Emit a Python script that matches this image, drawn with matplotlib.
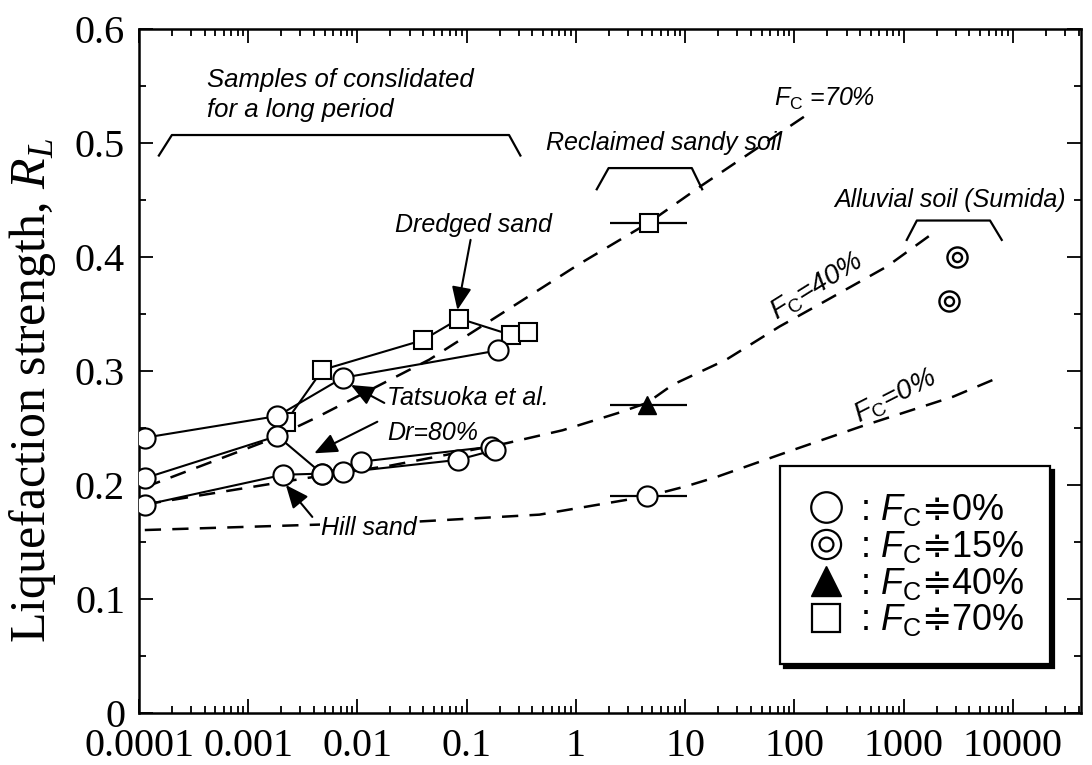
import matplotlib
matplotlib.use('Agg')
import matplotlib.pyplot as plt
from matplotlib.lines import Line2D
from matplotlib.legend_handler import HandlerTuple
from matplotlib.ticker import FixedLocator, LogLocator, NullFormatter, MultipleLocator

plt.rcParams['font.family'] = ['Liberation Sans', 'DejaVu Sans']
plt.rcParams['mathtext.fontset'] = 'custom'
plt.rcParams['mathtext.rm'] = 'DejaVu Sans'
plt.rcParams['mathtext.it'] = 'Liberation Sans:italic'
plt.rcParams['mathtext.sf'] = 'Liberation Serif:italic'
plt.rcParams['mathtext.bf'] = 'Liberation Sans'

# samples consolidated for a long period (Fc ~ 0 %, open circles)
top_x = [1.13e-4, 1.85e-3, 7.3e-3, 0.192]
top_y = [0.2415, 0.2605, 0.294, 0.318]
mid_x = [1.13e-4, 1.85e-3, 4.73e-3, 0.0108, 0.168]
mid_y = [0.206, 0.243, 0.210, 0.2205, 0.2336]
hill_x = [1.13e-4, 2.09e-3, 4.73e-3, 7.3e-3, 0.0826, 0.180]
hill_y = [0.1825, 0.209, 0.210, 0.211, 0.222, 0.2307]
# dredged sand (Fc ~ 70 %, squares)
dredged_x = [2.21e-3, 4.78e-3, 0.0395, 0.0857, 0.255, 0.362]
dredged_y = [0.2555, 0.301, 0.327, 0.346, 0.3316, 0.3345]

# reclaimed sandy soil, with range bars
rec_x = [4.62, 4.47, 4.47]
rec_y = [0.430, 0.270, 0.190]
rec_lo = [2.03, 2.03, 2.03]
rec_hi = [10.3, 10.3, 10.3]

# alluvial soil (Sumida), Fc ~ 15 %
alluv_x = [3060, 2620]
alluv_y = [0.400, 0.361]

# dashed trend curves
fc70_x = [1.13e-4, 1.56e-3, 4.17e-3, 0.0455, 1.08, 4.62, 14.3, 141]
fc70_y = [0.198, 0.2395, 0.259, 0.310, 0.394, 0.430, 0.463, 0.527]
fc40_x = [1.13e-4, 3.37e-3, 0.02, 0.23, 0.753, 2.4, 4.47, 7.7, 23.8, 73, 197, 698, 1742]
fc40_y = [0.183, 0.206, 0.217, 0.2366, 0.248, 0.263, 0.272, 0.288, 0.310, 0.339, 0.362, 0.3915, 0.419]
fc0_x = [1.13e-4, 0.0368, 0.463, 4.47, 10.3, 19.3, 97, 398, 2840, 7110]
fc0_y = [0.1605, 0.168, 0.174, 0.190, 0.199, 0.207, 0.2307, 0.251, 0.2775, 0.2936]

# brackets over the sample groups
br_samples_x = [1.52e-4, 2.0e-4, 0.244, 0.31]
br_samples_y = [0.489, 0.507, 0.507, 0.489]
br_rec_x = [1.55, 1.99, 11.5, 14.3]
br_rec_y = [0.4594, 0.478, 0.478, 0.4594]
br_all_x = [1067, 1320, 6170, 7900]
br_all_y = [0.415, 0.432, 0.432, 0.415]

xticks = [1e-4, 1e-3, 1e-2, 1e-1, 1, 10, 100, 1000, 10000]
xticklabels = ['0.0001', '0.001', '0.01', '0.1', '1', '10', '100', '1000', '10000']
yticks = [0, 0.1, 0.2, 0.3, 0.4, 0.5, 0.6]
yticklabels = ['0', '0.1', '0.2', '0.3', '0.4', '0.5', '0.6']
fc_levels = ['0%', '15%', '40%', '70%']

fig = plt.figure(figsize=(10.92, 7.65), dpi=100)
ax = fig.add_axes([139 / 1092, 52 / 765, 942 / 1092, 684 / 765])
ax.set_xscale('log')
ax.set_xlim(1e-4, 4.2e4)
ax.set_ylim(0, 0.6)

dash = (0, (6.5, 4.5))
for cx, cy in (fc70_x, fc70_y), (fc40_x, fc40_y), (fc0_x, fc0_y):
    ax.plot(cx, cy, color='k', lw=1.8, ls=dash, zorder=1)

for bx, by in (br_samples_x, br_samples_y), (br_rec_x, br_rec_y), (br_all_x, br_all_y):
    ax.plot(bx, by, color='k', lw=1.6, zorder=1)

for sx, sy in (top_x, top_y), (mid_x, mid_y), (hill_x, hill_y), (dredged_x, dredged_y):
    ax.plot(sx, sy, color='k', lw=1.5, zorder=2)
ax.hlines(rec_y, rec_lo, rec_hi, color='k', lw=1.6, zorder=2)

circ = dict(ls='none', marker='o', ms=14.5, mfc='white', mec='k', mew=1.5, zorder=3)
sq = dict(ls='none', marker='s', ms=13, mfc='white', mec='k', mew=1.5, zorder=3)
ax.plot(dredged_x, dredged_y, **sq)
for sx, sy in (top_x, top_y), (mid_x, mid_y), (hill_x, hill_y):
    ax.plot(sx, sy, **circ)
ax.plot(rec_x[0], rec_y[0], **sq)
ax.plot(rec_x[1], rec_y[1], ls='none', marker='^', ms=13, color='k', zorder=3)
ax.plot(rec_x[2], rec_y[2], **circ)
ax.plot(alluv_x, alluv_y, ls='none', marker='o', ms=14.5, mfc='white', mec='k', mew=1.7, zorder=3)
ax.plot(alluv_x, alluv_y, ls='none', marker='o', ms=6.5, mfc='white', mec='k', mew=1.7, zorder=4)

tfs = 18
ax.text(4.2e-4, 0.542, 'Samples of conslidated\nfor a long period', fontsize=18.5, style='italic',
        ha='left', va='center', linespacing=1.3)
ax.text(6.35, 0.5004, 'Reclaimed sandy soil', fontsize=tfs, style='italic', ha='center', va='center')
ax.text(2655, 0.45, 'Alluvial soil (Sumida)', fontsize=tfs, style='italic', ha='center', va='center')
ax.text(190, 0.539, r'$F_\mathbf{C}$ =70%', fontsize=tfs, style='italic', ha='center', va='center')
ax.text(159, 0.374, r'$F_\mathbf{C}$=40%', fontsize=20, style='italic', ha='center', va='center', rotation=32)
ax.text(832, 0.2775, r'$F_\mathbf{C}$=0%', fontsize=20, style='italic', ha='center', va='center', rotation=27)

arrow = dict(arrowstyle='-|>,head_length=0.7,head_width=0.3', color='k', lw=1.5,
             shrinkA=0, shrinkB=0, mutation_scale=20)
ax.annotate('Dredged sand', xy=(0.0822, 0.3535), xytext=(0.115, 0.428), fontsize=tfs, style='italic',
            ha='center', va='center', arrowprops=arrow)
ax.annotate('', xy=(8.7e-3, 0.2877), xytext=(0.0176, 0.272), arrowprops=arrow)
ax.annotate('', xy=(4.02e-3, 0.2278), xytext=(0.0152, 0.2555), arrowprops=arrow)
ax.annotate('', xy=(2.21e-3, 0.2), xytext=(3.86e-3, 0.172), arrowprops=arrow)
ax.text(0.0188, 0.276, 'Tatsuoka et al.', fontsize=tfs, style='italic', ha='left', va='center')
ax.text(0.0186, 0.2456, 'Dr=80%', fontsize=tfs, style='italic', ha='left', va='center')
ax.text(4.62e-3, 0.162, 'Hill sand', fontsize=tfs, style='italic', ha='left', va='center',
        bbox=dict(facecolor='white', edgecolor='none', pad=0.5))

ax.xaxis.set_major_locator(FixedLocator(xticks))
ax.xaxis.set_minor_locator(LogLocator(base=10, subs=range(2, 10), numticks=20))
ax.xaxis.set_minor_formatter(NullFormatter())
ax.set_xticklabels(xticklabels)
ax.set_yticks(yticks)
ax.set_yticklabels(yticklabels)
ax.yaxis.set_minor_locator(MultipleLocator(0.05))
for lab in ax.get_xticklabels() + ax.get_yticklabels():
    lab.set_fontfamily('Liberation Serif')
    lab.set_fontsize(29)
ax.tick_params(which='both', direction='in', top=True, right=True, width=1.3)
ax.tick_params(which='major', length=10)
ax.tick_params(which='minor', length=5)
ax.tick_params(axis='x', pad=11)
ax.tick_params(axis='y', pad=10)
for sp in ax.spines.values():
    sp.set_linewidth(1.8)

ax.set_ylabel(r'Liquefaction strength, $\mathsf{R}_\mathsf{L}$', fontfamily='Liberation Serif', fontsize=36)
ax.yaxis.set_label_coords(-0.086, 0.472)

h0 = Line2D([], [], ls='none', marker='o', ms=22, mfc='white', mec='k', mew=1.6)
h15a = Line2D([], [], ls='none', marker='o', ms=21, mfc='white', mec='k', mew=1.6)
h15b = Line2D([], [], ls='none', marker='o', ms=10, mfc='white', mec='k', mew=1.6)
h40 = Line2D([], [], ls='none', marker='^', ms=21, color='k')
h70 = Line2D([], [], ls='none', marker='s', ms=20, mfc='white', mec='k', mew=1.6)
labels = [': $F_\\mathbf{C}\\mathrm{\u2251}$' + lv for lv in fc_levels]
leg = ax.legend([h0, (h15a, h15b), h40, h70], labels,
                handler_map={tuple: HandlerTuple(ndivide=1, pad=0)},
                loc='upper left', bbox_to_anchor=(0.680, 0.361), borderaxespad=0, fontsize=26,
                handlelength=1.15, handletextpad=0.35, borderpad=0.72, labelspacing=0.02,
                fancybox=False, framealpha=1, edgecolor='k',
                shadow={'color': 'k', 'alpha': 1, 'ox': 3, 'oy': -3})
leg.get_frame().set_linewidth(1.6)

fig.savefig('out.png', dpi=100)
